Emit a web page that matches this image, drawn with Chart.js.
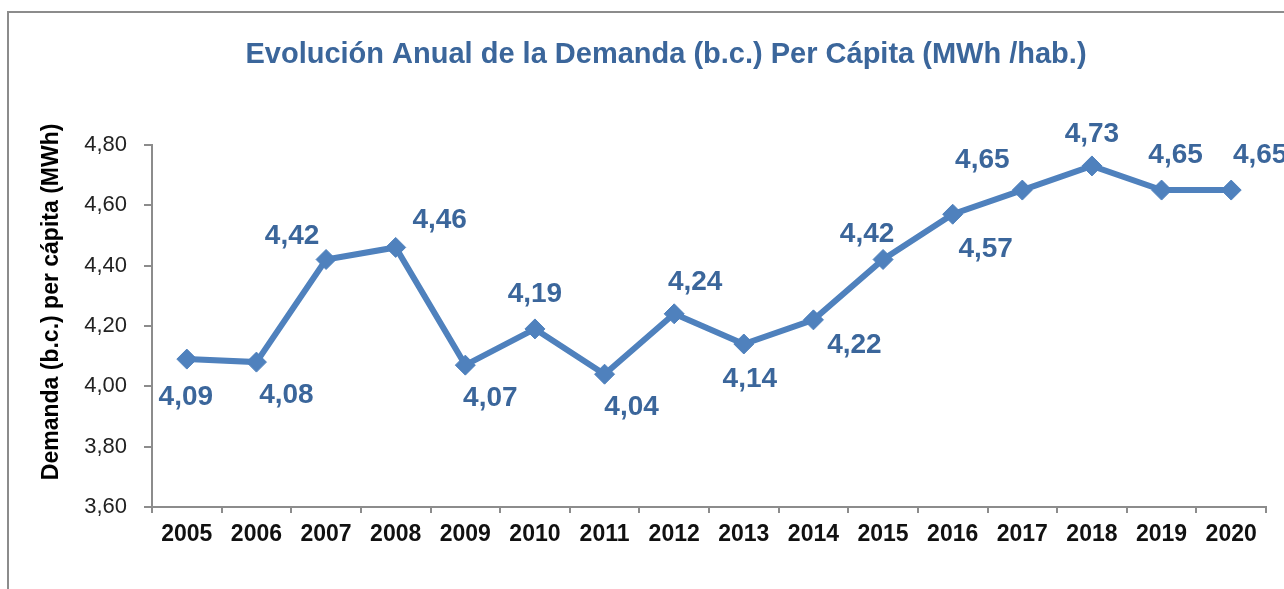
<!DOCTYPE html>
<html>
<head>
<meta charset="utf-8">
<script src="https://cdn.jsdelivr.net/npm/chart.js@4.4.1/dist/chart.umd.min.js"></script>
<style>
    body { margin: 0; overflow: hidden; background: #fff; }
    #wrap { position: relative; width: 1284px; height: 589px; }
    #frame { position: absolute; left: 7px; top: 11px; width: 2000px; height: 2000px; border: 2px solid #8c8c8c; }
    canvas { position: absolute; left: 0; top: 0; }
</style>
</head>
<body>
<div id="wrap">
    <div id="frame"></div>
    <canvas id="demandChart" width="1284" height="589"></canvas>
</div>
<script>
// data
const years = ["2005", "2006", "2007", "2008", "2009", "2010", "2011", "2012", "2013", "2014", "2015", "2016", "2017", "2018", "2019", "2020"];
const demandPerCapita = [4.09, 4.08, 4.42, 4.46, 4.07, 4.19, 4.04, 4.24, 4.14, 4.22, 4.42, 4.57, 4.65, 4.73, 4.65, 4.65];

const chartTitle = "Evolución Anual de la Demanda (b.c.) Per Cápita (MWh /hab.)";
const yAxisTitle = "Demanda (b.c.) per cápita (MWh)";

// where each value label sits relative to its point (dx, dy in px)
const labelOffsets = [
    [-1, 38], [30, 33], [-34, -23], [44, -27], [25, 33], [0, -35], [27, 33], [21, -32],
    [6, 35], [41, 25], [-16, -25], [33, 35], [-40, -30], [0, -32], [14, -35], [29, -35]
];

const lineBlue = "#4f81bd";
const labelBlue = "#3b669b";
const axisGray = "#8c8c8c";
const fontFamily = "'Liberation Sans', Arial, sans-serif";

const fmt = v => Number(v).toFixed(2).replace(".", ",");

// value next to each marker + the rotated y axis title (sits a bit above centre like the original)
const valueLabels = {
    id: "valueLabels",
    afterDatasetsDraw(chart) {
        const ctx = chart.ctx;
        const meta = chart.getDatasetMeta(0);
        ctx.save();
        ctx.font = "bold 28px " + fontFamily;
        ctx.fillStyle = labelBlue;
        ctx.textAlign = "center";
        ctx.textBaseline = "middle";
        meta.data.forEach((pt, i) => {
            const off = labelOffsets[i] || [0, -30];
            ctx.fillText(fmt(demandPerCapita[i]), pt.x + off[0], pt.y + off[1]);
        });
        ctx.restore();

        const area = chart.chartArea;
        ctx.save();
        ctx.translate(52, (area.top + area.bottom) / 2 - 24);
        ctx.rotate(-Math.PI / 2);
        ctx.font = "bold 23px " + fontFamily;
        ctx.fillStyle = "#000";
        ctx.textAlign = "center";
        ctx.textBaseline = "middle";
        ctx.fillText(yAxisTitle, 0, 0);
        ctx.restore();
    }
};

const ctx = document.getElementById("demandChart").getContext("2d");
const demandChart = new Chart(ctx, {
    type: "line",
    data: {
        labels: years,
        datasets: [{
            label: "Demanda per cápita",
            data: demandPerCapita,
            borderColor: lineBlue,
            backgroundColor: lineBlue,
            borderWidth: 6,
            pointStyle: "rectRot",
            pointRadius: 10,
            pointBorderWidth: 1,
            pointBackgroundColor: lineBlue,
            pointBorderColor: lineBlue,
            tension: 0
        }]
    },
    options: {
        responsive: false,
        animation: false,
        layout: {
            padding: { left: 66, right: 18, top: 0, bottom: 32 }
        },
        plugins: {
            legend: { display: false },
            tooltip: { enabled: false },
            title: {
                display: true,
                text: chartTitle,
                color: labelBlue,
                font: { family: fontFamily, size: 29, weight: "bold" },
                padding: { top: 38, bottom: 72 }
            }
        },
        scales: {
            x: {
                offset: true,
                grid: {
                    offset: true,
                    drawOnChartArea: false,
                    color: axisGray,
                    lineWidth: 2,
                    tickLength: 6
                },
                border: { color: axisGray, width: 2 },
                ticks: {
                    color: "#111",
                    padding: 8,
                    maxRotation: 0,
                    font: { family: fontFamily, size: 23, weight: "bold" }
                },
                afterFit: scale => { scale.height = 50; }
            },
            y: {
                min: 3.6,
                max: 4.8,
                ticks: {
                    stepSize: 0.2,
                    color: "#222",
                    padding: 17,
                    font: { family: fontFamily, size: 22 },
                    callback: v => fmt(v)
                },
                grid: {
                    drawOnChartArea: false,
                    color: axisGray,
                    lineWidth: 2,
                    tickLength: 8
                },
                border: { color: axisGray, width: 2 },
                afterFit: scale => { scale.width = 86; }
            }
        }
    },
    plugins: [valueLabels]
});
</script>
</body>
</html>
